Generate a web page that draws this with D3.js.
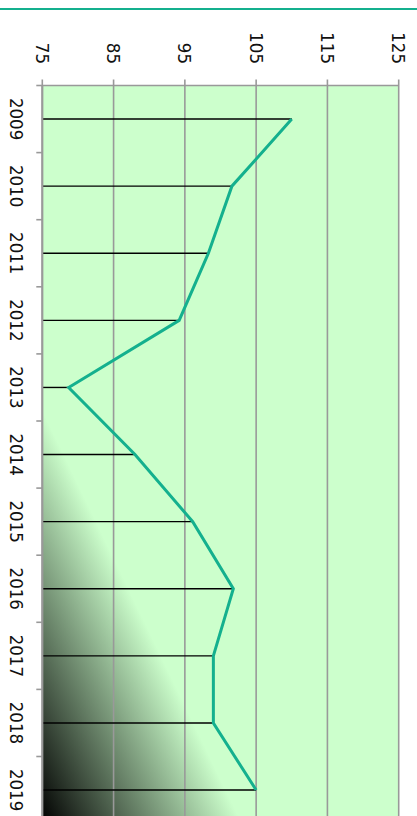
<!DOCTYPE html>
<html lang="en">
<head>
	<meta charset="UTF-8">
	<title>Chart</title>
	<script src="https://cdn.jsdelivr.net/npm/d3@7/dist/d3.min.js"></script>
	<style>
		html, body{
			margin: 0;
			padding: 0;
			background: #fff;
		}
		svg{
			display: block;
		}
	</style>
</head>
<body>
	<div class="chart"></div>
	<script>
		var years = ['2009', '2010', '2011', '2012', '2013', '2014', '2015', '2016', '2017', '2018', '2019'];
		var values = [110, 101.6, 98.3, 94.2, 78.7, 88, 96.1, 101.8, 99, 99, 105];
		var valueTicks = [75, 85, 95, 105, 115, 125];

		var width = 417;
		var height = 816;
		var plot = { left: 42.3, right: 398.7, top: 85.5, bottom: 823.6 };
		var teal = '#14b08e';
		var grid = '#999999';
		var font = '"DejaVu Sans Condensed", "DejaVu Sans", sans-serif';

		var xScale = d3.scaleLinear()
						.domain([75, 125])
						.range([plot.left, plot.right]);
		var yScale = d3.scaleBand()
						.domain(years)
						.range([plot.top, plot.bottom])
						.padding(0);

		var svg = d3.select('.chart')
					.append('svg')
					.attr('width', width)
					.attr('height', height);

		// thin rule at the very top
		svg.append('line')
			.attr('x1', 0).attr('x2', width)
			.attr('y1', 9).attr('y2', 9)
			.attr('stroke', teal)
			.attr('stroke-width', 2);

		var defs = svg.append('defs');
		var grad = defs.append('linearGradient')
						.attr('id', 'bg')
						.attr('x1', 0).attr('y1', 1)
						.attr('x2', 1).attr('y2', 0);
		grad.append('stop').attr('offset', 0).attr('stop-color', '#000000');
		grad.append('stop').attr('offset', 0.28).attr('stop-color', '#ccffcc');
		grad.append('stop').attr('offset', 1).attr('stop-color', '#ccffcc');

		svg.append('rect')
			.attr('x', plot.left)
			.attr('y', plot.top)
			.attr('width', plot.right - plot.left)
			.attr('height', plot.bottom - plot.top)
			.attr('fill', 'url(#bg)');

		// vertical grid lines + top ticks
		svg.append('g')
			.selectAll('line')
			.data(valueTicks)
			.enter()
			.append('line')
			.attr('x1', function(d){ return xScale(d); })
			.attr('x2', function(d){ return xScale(d); })
			.attr('y1', plot.top - 6)
			.attr('y2', plot.bottom)
			.attr('stroke', grid)
			.attr('stroke-width', 1.6);

		// top border
		svg.append('line')
			.attr('x1', plot.left).attr('x2', plot.right)
			.attr('y1', plot.top).attr('y2', plot.top)
			.attr('stroke', grid)
			.attr('stroke-width', 1.6);

		// left ticks at band edges
		var edges = years.map(function(d){ return yScale(d); }).concat([plot.bottom]);
		svg.append('g')
			.selectAll('line')
			.data(edges)
			.enter()
			.append('line')
			.attr('x1', plot.left - 6)
			.attr('x2', plot.left)
			.attr('y1', function(d){ return d; })
			.attr('y2', function(d){ return d; })
			.attr('stroke', grid)
			.attr('stroke-width', 1.6);

		// value labels (rotated)
		svg.append('g')
			.selectAll('text')
			.data(valueTicks)
			.enter()
			.append('text')
			.attr('transform', function(d){
				return 'translate(' + xScale(d) + ',64) rotate(90)';
			})
			.attr('text-anchor', 'end')
			.attr('dominant-baseline', 'central')
			.attr('font-family', font)
			.attr('font-size', 18.5)
			.attr('fill', '#111')
			.text(function(d){ return d; });

		// year labels (rotated)
		svg.append('g')
			.selectAll('text')
			.data(years)
			.enter()
			.append('text')
			.attr('transform', function(d){
				return 'translate(16,' + (yScale(d) + yScale.bandwidth() / 2) + ') rotate(90)';
			})
			.attr('text-anchor', 'middle')
			.attr('dominant-baseline', 'central')
			.attr('font-family', font)
			.attr('font-size', 18.5)
			.attr('fill', '#111')
			.text(function(d){ return d; });

		// drop lines
		svg.append('g')
			.selectAll('line')
			.data(years)
			.enter()
			.append('line')
			.attr('x1', plot.left)
			.attr('x2', function(d, i){ return xScale(values[i]); })
			.attr('y1', function(d){ return yScale(d) + yScale.bandwidth() / 2; })
			.attr('y2', function(d){ return yScale(d) + yScale.bandwidth() / 2; })
			.attr('stroke', '#000')
			.attr('stroke-width', 1.4);

		// left axis line
		svg.append('line')
			.attr('x1', plot.left).attr('x2', plot.left)
			.attr('y1', plot.top).attr('y2', plot.bottom)
			.attr('stroke', grid)
			.attr('stroke-width', 2);

		var linePath = d3.line()
						.x(function(d, i){ return xScale(values[i]); })
						.y(function(d){ return yScale(d) + yScale.bandwidth() / 2; });

		svg.append('path')
			.attr('d', linePath(years))
			.attr('fill', 'none')
			.attr('stroke', teal)
			.attr('stroke-width', 3);
	</script>
</body>
</html>
